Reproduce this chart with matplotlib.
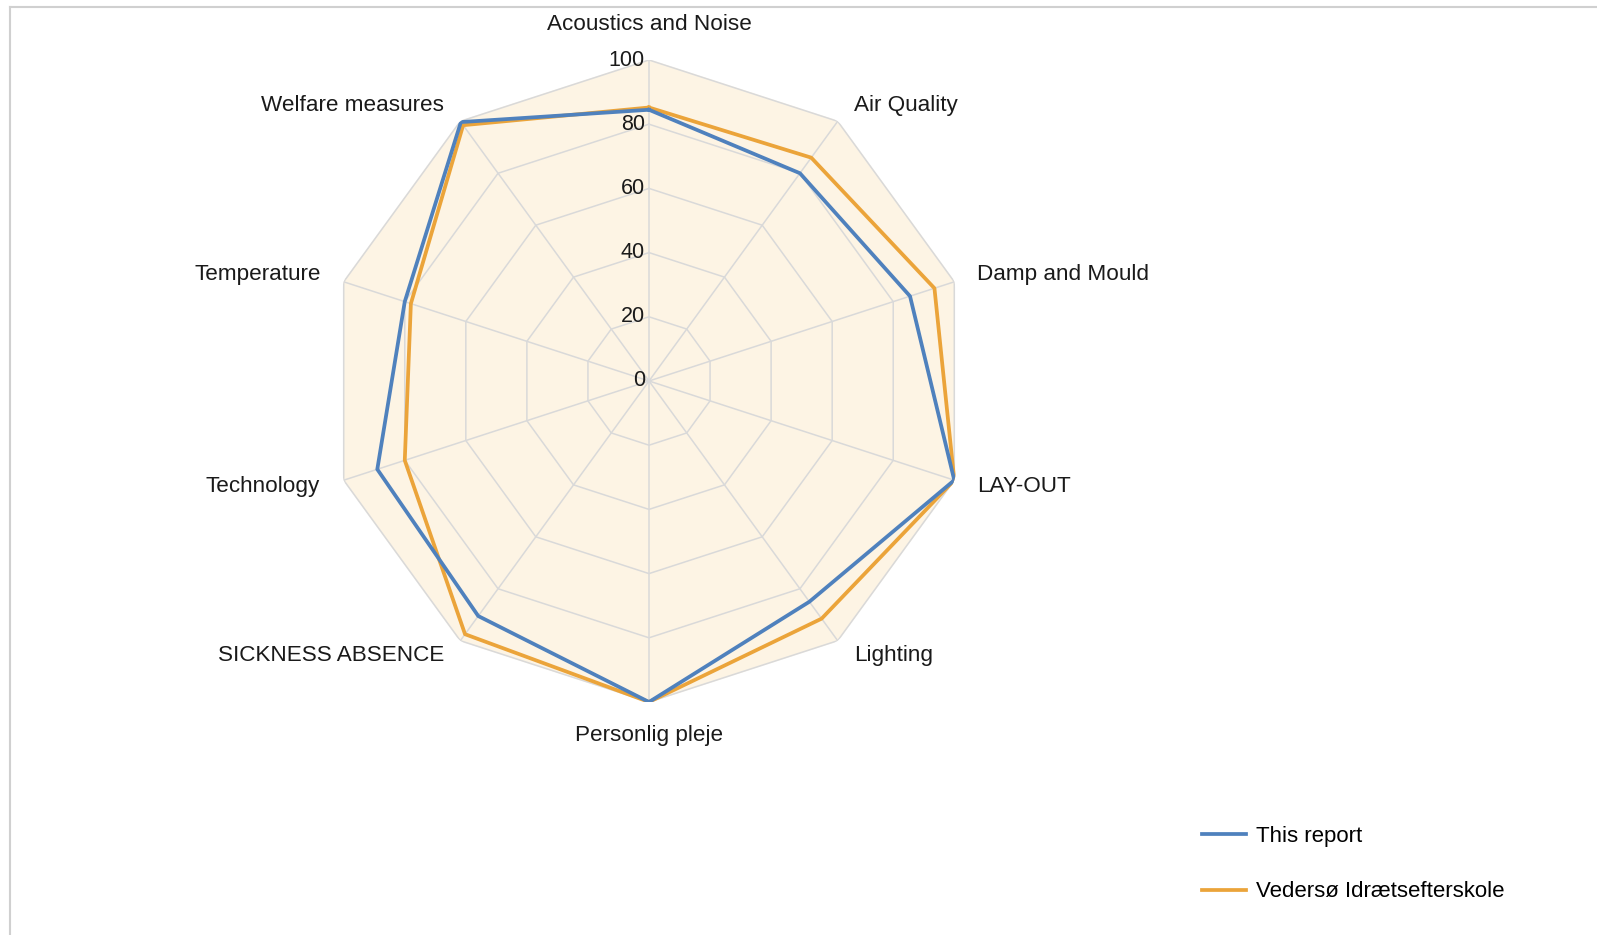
import matplotlib
matplotlib.use('Agg')
import matplotlib.pyplot as plt
import numpy as np

plt.rcParams['font.family'] = ['Liberation Sans', 'DejaVu Sans']

# データ
categories = ['Acoustics and Noise', 'Air Quality', 'Damp and Mould', 'LAY-OUT',
              'Lighting', 'Personlig pleje', 'SICKNESS ABSENCE', 'Technology',
              'Temperature', 'Welfare measures']
this_report = [84.5, 80, 85.5, 100, 85, 100, 90.5, 89, 80, 99.7]
vedersoe = [85.2, 86, 93.5, 100, 91.5, 100, 97.5, 80, 78, 98.5]
series_names = ['This report', 'Vedersø Idrætsefterskole']
r_ticks = [0, 20, 40, 60, 80, 100]

blue = '#4F81BD'
orange = '#EBA43A'
grid_col = '#D9D9D9'
fill_col = '#FDF4E4'

n = len(categories)
theta = np.linspace(0, 2 * np.pi, n, endpoint=False)
theta_c = np.append(theta, theta[0])

fig = plt.figure(figsize=(15.97, 9.35), dpi=100)

# 枠線（上と左）
fig.add_artist(plt.Line2D([10 / 1597, 1], [1 - 6.5 / 935, 1 - 6.5 / 935],
                          color='#D0D0D0', lw=1.5, transform=fig.transFigure))
fig.add_artist(plt.Line2D([10 / 1597, 10 / 1597], [0, 1 - 6.5 / 935],
                          color='#D0D0D0', lw=1.5, transform=fig.transFigure))

R = 321
cx, cy = 649, 381
ax = fig.add_axes([(cx - R) / 1597, (935 - cy - R) / 935, 2 * R / 1597, 2 * R / 935],
                  projection='polar')
ax.set_theta_zero_location('N')
ax.set_theta_direction(-1)
ax.set_ylim(0, 100)
ax.grid(False)
ax.set_xticks([])
ax.set_yticks([])
ax.spines['polar'].set_visible(False)
ax.patch.set_alpha(0)

# 背景の塗り
ax.fill(theta_c, [100] * (n + 1), color=fill_col, zorder=0)

# グリッド（多角形）
for r in r_ticks[1:]:
    ax.plot(theta_c, [r] * (n + 1), color=grid_col, lw=1.1, zorder=1)
for t in theta:
    ax.plot([t, t], [0, 100], color=grid_col, lw=1.1, zorder=1)

# データ線
ax.plot(theta_c, this_report + this_report[:1], color=blue, lw=2.7, zorder=3,
        label=series_names[0])
ax.plot(theta_c, vedersoe + vedersoe[:1], color=orange, lw=2.7, zorder=2,
        label=series_names[1])

# 目盛りラベル
for r in r_ticks:
    ax.annotate(str(r), xy=(0, r), xytext=(-4, 0), textcoords='offset pixels',
                ha='right', va='center', fontsize=15.5, color='#1a1a1a')

# カテゴリラベル
label_pos = [(0, 36, 'center'), (16, 16, 'left'), (23, 7, 'left'), (23, -6, 'left'),
             (16, -15, 'left'), (0, -34, 'center'), (-16, -15, 'right'),
             (-24, -6, 'right'), (-23, 7, 'right'), (-16, 16, 'right')]
for t, name, (dx, dy, ha) in zip(theta, categories, label_pos):
    ax.annotate(name, xy=(t, 100), xytext=(dx, dy), textcoords='offset pixels',
                ha=ha, va='center', fontsize=16.2, color='#1a1a1a')

fig.legend(loc='upper left', bbox_to_anchor=(1202 / 1597, 1 - 826 / 935),
           frameon=False, fontsize=16, handlelength=2.0, handletextpad=0.45,
           labelspacing=1.55, borderpad=0, borderaxespad=0)

fig.savefig('out.png', dpi=100, facecolor='white')
